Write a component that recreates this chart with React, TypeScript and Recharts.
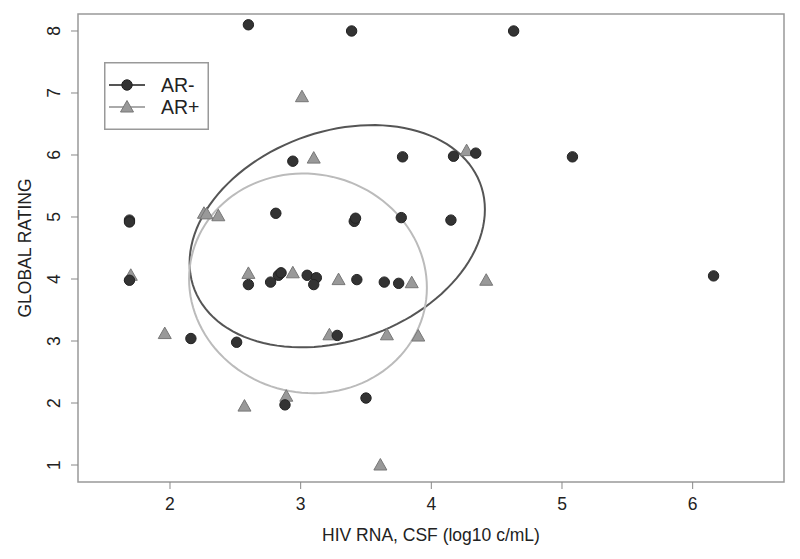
import { Legend, ReferenceArea, Scatter, ScatterChart, XAxis, YAxis } from "recharts"

// AR- (dark circles)
const arNeg = [
  { x: 2.60, y: 8.10 }, { x: 3.39, y: 8.00 }, { x: 4.63, y: 8.00 },
  { x: 1.69, y: 4.95 }, { x: 1.69, y: 4.92 }, { x: 1.69, y: 3.98 },
  { x: 2.94, y: 5.90 }, { x: 2.81, y: 5.06 }, { x: 3.41, y: 4.93 },
  { x: 3.42, y: 4.98 }, { x: 3.77, y: 4.99 }, { x: 4.15, y: 4.95 },
  { x: 3.78, y: 5.97 }, { x: 4.17, y: 5.98 }, { x: 4.34, y: 6.03 },
  { x: 5.08, y: 5.97 },
  { x: 2.60, y: 3.91 }, { x: 2.77, y: 3.95 }, { x: 2.83, y: 4.06 },
  { x: 2.85, y: 4.10 }, { x: 3.05, y: 4.06 }, { x: 3.12, y: 4.02 },
  { x: 3.10, y: 3.91 }, { x: 3.43, y: 3.99 }, { x: 3.64, y: 3.95 },
  { x: 3.75, y: 3.93 }, { x: 6.16, y: 4.05 },
  { x: 2.16, y: 3.04 }, { x: 2.51, y: 2.98 }, { x: 3.28, y: 3.09 },
  { x: 2.88, y: 1.97 }, { x: 3.50, y: 2.08 },
]

// AR+ (grey triangles)
const arPos = [
  { x: 3.01, y: 6.94 }, { x: 3.10, y: 5.95 }, { x: 4.27, y: 6.07 },
  { x: 2.26, y: 5.06 }, { x: 2.28, y: 5.05 }, { x: 2.37, y: 5.02 },
  { x: 1.70, y: 4.06 }, { x: 2.60, y: 4.09 }, { x: 2.94, y: 4.10 },
  { x: 3.29, y: 3.99 }, { x: 3.85, y: 3.94 }, { x: 4.42, y: 3.98 },
  { x: 1.96, y: 3.12 }, { x: 3.22, y: 3.10 }, { x: 3.66, y: 3.10 },
  { x: 3.90, y: 3.08 }, { x: 2.57, y: 1.95 }, { x: 2.89, y: 2.11 },
  { x: 3.61, y: 1.00 },
]

// confidence ellipses: centre + axis vectors (data units)
const arNegEllipse = { cx: 3.28, cy: 4.69, ax: 1.13, ay: 0.43, by: 1.74 }
const arPosEllipse = { cx: 3.056, cy: 3.93, ax: 0.91, ay: -0.07, by: 1.77 }

const xTicks = [2, 3, 4, 5, 6]
const yTicks = [1, 2, 3, 4, 5, 6, 7, 8]

const font = '"Liberation Sans", Arial, Helvetica, sans-serif'

function ellipsePoints(e: { cx: number, cy: number, ax: number, ay: number, by: number }) {
  const pts = []
  for (let i = 0; i <= 120; i++) {
    const t = (i / 120) * Math.PI * 2
    pts.push({ x: e.cx + e.ax * Math.cos(t), y: e.cy + e.ay * Math.cos(t) + e.by * Math.sin(t) })
  }
  return pts
}

const Dot = (props: any) => {
  const { cx, cy } = props
  return <circle cx={cx} cy={cy} r={5.2} fill="#333" stroke="#222" strokeWidth={1} />
}

const Tri = (props: any) => {
  const { cx, cy } = props
  return (
    <polygon
      points={`${cx},${cy - 6.5} ${cx - 6.5},${cy + 5} ${cx + 6.5},${cy + 5}`}
      fill="#999"
      stroke="#777"
      strokeWidth={1}
    />
  )
}

const YTick = ({ x, y, payload }: any) => (
  <text x={x} y={y} transform={`rotate(-90 ${x} ${y})`} textAnchor="middle" fill="#222" fontSize={17.5} fontFamily={font}>
    {payload.value}
  </text>
)

const LegendBox = () => (
  <svg width={105} height={68}>
    <rect x={0.75} y={0.75} width={103.5} height={66.5} fill="#fff" stroke="#999" strokeWidth={1.5} />
    <line x1={5} x2={41} y1={23} y2={23} stroke="#555" strokeWidth={2} />
    <circle cx={23} cy={23} r={5.2} fill="#333" stroke="#222" />
    <text x={57} y={30} fontSize={19.5} fill="#222" fontFamily={font}>AR-</text>
    <line x1={5} x2={41} y1={45} y2={45} stroke="#aaa" strokeWidth={2} />
    <polygon points="23,38.5 16.5,50 29.5,50" fill="#999" stroke="#777" />
    <text x={57} y={52} fontSize={19.5} fill="#222" fontFamily={font}>AR+</text>
  </svg>
)

export default function App() {
  return (
    <div style={{ fontFamily: font }}>
      <ScatterChart width={784} height={543} margin={{ top: 6, right: 8, bottom: 7, left: 0 }}>
        <XAxis
          type="number"
          dataKey="x"
          domain={[1.296, 6.699]}
          ticks={xTicks}
          allowDataOverflow
          axisLine={false}
          tickLine={{ stroke: "#888" }}
          tickSize={7}
          tickMargin={9}
          height={62}
          tick={{ fill: "#222", fontSize: 17.5, fontFamily: font }}
          label={{ value: "HIV RNA, CSF (log10 c/mL)", position: "insideBottom", offset: 3, fill: "#222", fontSize: 17.5, fontFamily: font }}
        />
        <YAxis
          type="number"
          dataKey="y"
          domain={[0.726, 8.274]}
          ticks={yTicks}
          allowDataOverflow
          axisLine={false}
          tickLine={{ stroke: "#888" }}
          tickSize={7}
          tickMargin={11}
          width={70}
          tick={<YTick />}
          label={{ value: "GLOBAL RATING", angle: -90, position: "insideLeft", offset: 17, fill: "#222", fontSize: 17.5, fontFamily: font, style: { textAnchor: "middle" } }}
        />
        <ReferenceArea x1={1.296} x2={6.699} y1={0.726} y2={8.274} fill="none" stroke="#999" strokeWidth={1.5} ifOverflow="visible" />
        <Scatter name="arNegEllipse" data={ellipsePoints(arNegEllipse)} line={{ stroke: "#555", strokeWidth: 2 }} shape={() => null} legendType="none" isAnimationActive={false} />
        <Scatter name="arPosEllipse" data={ellipsePoints(arPosEllipse)} line={{ stroke: "#bbb", strokeWidth: 2 }} shape={() => null} legendType="none" isAnimationActive={false} />
        <Scatter name="AR+" data={arPos} shape={<Tri />} isAnimationActive={false} />
        <Scatter name="AR-" data={arNeg} shape={<Dot />} isAnimationActive={false} />
        <Legend
          content={<LegendBox />}
          layout="vertical"
          align="center"
          verticalAlign="middle"
          wrapperStyle={{ position: "absolute", left: 96, top: 54, width: 105, height: 68 }}
        />
      </ScatterChart>
    </div>
  )
}
